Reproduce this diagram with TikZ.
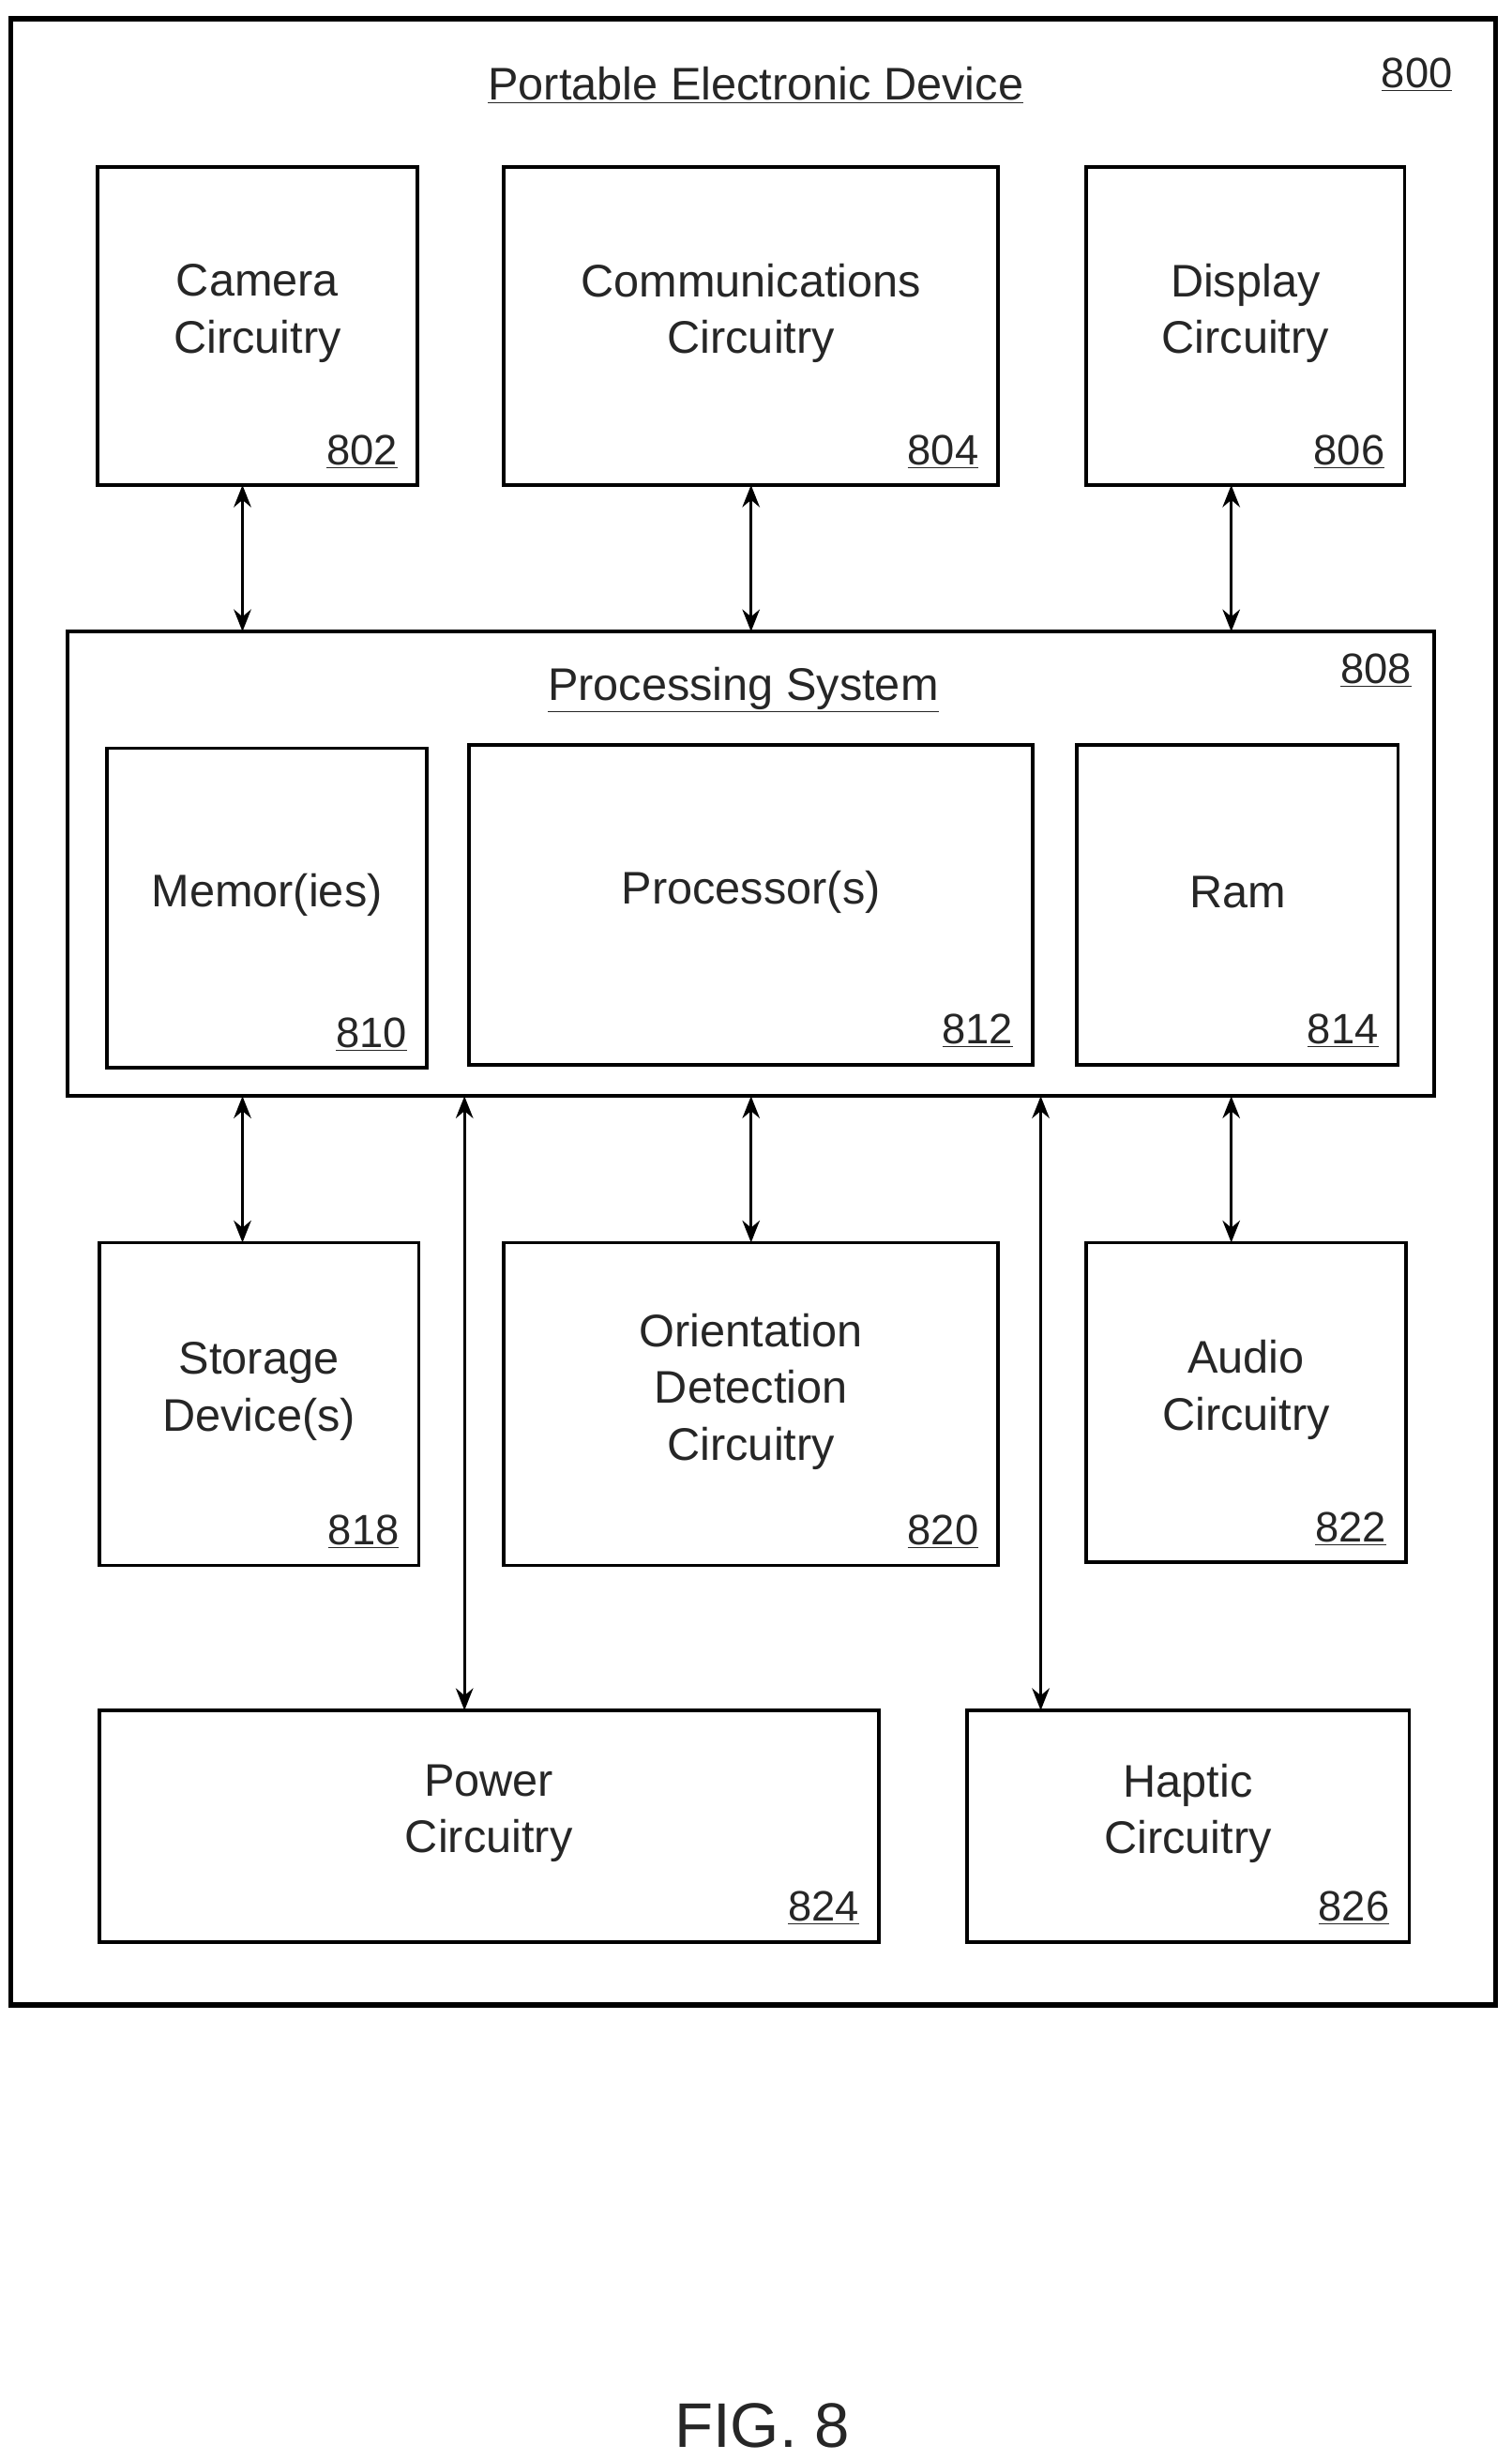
\documentclass[tikz,border=0pt]{standalone}
\usepackage{fontspec}
\setmainfont{Liberation Sans}
\usetikzlibrary{arrows.meta}
\begin{document}
\begin{tikzpicture}[x=1pt,y=-1pt,
  box/.style={draw,line width=2.2pt,inner sep=0,outer sep=0,anchor=north west},
  txt/.style={align=center,font=\fontsize{29}{36}\selectfont,text=black!85},
  num/.style={anchor=base east,font=\fontsize{27}{30}\selectfont,text=black!85},
  arr/.style={line width=2pt,{Stealth[length=14pt,width=11pt]}-{Stealth[length=14pt,width=11pt]}}]
\useasboundingbox (0,0) rectangle (960,1562);
\node[box,line width=3.2pt,minimum width=943pt,minimum height=1261pt] (dev) at (7,12) {};
\node[txt] (devt) at (480,54) {\underline{Portable Electronic Device}};
\node[num] (devn) at (926,56) {\underline{800}};
\newcommand\bx[7]{\node[box,minimum width=#4pt,minimum height=#5pt] (#1) at (#2,#3) {};
  \node[txt] (#1t) at ([yshift=8pt]#1.center) {#6};
  \node[num] (#1n) at ([xshift=-9pt,yshift=13pt]#1.south east) {\underline{#7}};}
\bx{cam}{62}{106}{203}{202}{Camera\\Circuitry}{802}
\bx{com}{320}{106}{314}{202}{Communications\\Circuitry}{804}
\bx{dis}{690}{106}{202}{202}{Display\\Circuitry}{806}
\node[box,minimum width=868pt,minimum height=295pt] (ps) at (43,401) {};
\node[txt] (pst) at (472,438) {\underline{Processing System}};
\node[num] (psn) at (900,434) {\underline{808}};
\bx{mem}{68}{475}{203}{203}{Memor(ies)}{810}
\bx{pro}{298}{473}{358}{203}{Processor(s)}{812}
\bx{ram}{684}{473}{204}{203}{Ram}{814}
\bx{sto}{63}{789}{203}{205}{Storage\\Device(s)}{818}
\bx{ori}{320}{789}{314}{205}{Orientation\\Detection\\Circuitry}{820}
\bx{aud}{690}{789}{203}{203}{Audio\\Circuitry}{822}
\bx{pow}{63}{1086}{495}{147}{Power\\Circuitry}{824}
\bx{hap}{614}{1086}{281}{147}{Haptic\\Circuitry}{826}
\draw[arr] (154,0 |- cam.south) -- (154,0 |- ps.north);
\draw[arr] (477,0 |- com.south) -- (477,0 |- ps.north);
\draw[arr] (782,0 |- dis.south) -- (782,0 |- ps.north);
\draw[arr] (154,0 |- ps.south) -- (154,0 |- sto.north);
\draw[arr] (477,0 |- ps.south) -- (477,0 |- ori.north);
\draw[arr] (782,0 |- ps.south) -- (782,0 |- aud.north);
\draw[arr] (295,0 |- ps.south) -- (295,0 |- pow.north);
\draw[arr] (661,0 |- ps.south) -- (661,0 |- hap.north);
\node[font=\fontsize{40}{44}\selectfont,text=black!85] (fig) at (484,1540) {FIG. 8};
\end{tikzpicture}
\end{document}
